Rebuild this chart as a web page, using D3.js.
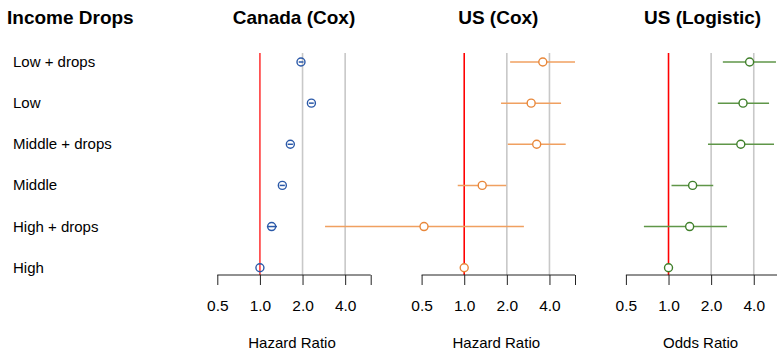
<!DOCTYPE html>
<html>
<head>
<meta charset="utf-8">
<script src="https://cdn.jsdelivr.net/npm/d3@7"></script>
<style>
  body { margin: 0; background: #fff; }
  text { font-family: "Liberation Sans", Arial, sans-serif; fill: #000; }
</style>
</head>
<body>
<script>
// row labels, top to bottom
const groups = ["Low + drops", "Low", "Middle + drops", "Middle", "High + drops", "High"];

// Canada (Cox): estimate, lower, upper
const canadaEst = [1.95, 2.31, 1.64, 1.44, 1.21, 1.0];
const canadaLo = [1.88, 2.22, 1.57, 1.38, 1.12, 1.0];
const canadaHi = [2.03, 2.40, 1.71, 1.50, 1.32, 1.0];

// US (Cox)
const usCoxEst = [3.59, 2.97, 3.25, 1.34, 0.52, 1.0];
const usCoxLo = [2.11, 1.82, 2.03, 0.90, 0.104, 1.0];
const usCoxHi = [6.06, 4.83, 5.21, 1.98, 2.64, 1.0];

// US (Logistic)
const usLogEst = [3.74, 3.36, 3.24, 1.48, 1.41, 1.0];
const usLogLo = [2.42, 2.23, 1.90, 1.05, 0.67, 1.0];
const usLogHi = [5.74, 5.13, 5.56, 2.07, 2.59, 1.0];

const tickValues = [0.5, 1, 2, 4];
const tickLabels = ["0.5", "1.0", "2.0", "4.0"];
const axisMax = 6.06;

const panels = [
  { title: "Canada (Cox)", xlab: "Hazard Ratio", est: canadaEst, lo: canadaLo, hi: canadaHi,
    color: "#2b59a8", line: "#2b59a8", lineOnTop: true, refColor: "#ff3b3b" },
  { title: "US (Cox)", xlab: "Hazard Ratio", est: usCoxEst, lo: usCoxLo, hi: usCoxHi,
    color: "#e8873a", line: "#f0a060", lineOnTop: false, refColor: "#ff0000" },
  { title: "US (Logistic)", xlab: "Odds Ratio", est: usLogEst, lo: usLogLo, hi: usLogHi,
    color: "#3f7f2a", line: "#5f9648", lineOnTop: false, refColor: "#ff0000" },
];

const w = 777;
const h = 350;
const panelStart = 217.3;
const panelStep = 204.3;
const panelWidth = 153.4;
const axisY = 275;
const topY = 53;

const svg = d3.select("body").append("svg").attr("width", w).attr("height", h);

const y = d3.scalePoint().domain(groups).range([62, 267.7]);

// left title and row labels
svg.append("text")
  .attr("x", 7).attr("y", 24)
  .attr("font-size", 19).attr("font-weight", "bold")
  .text("Income Drops");

svg.selectAll(".rowlab").data(groups).enter().append("text")
  .attr("class", "rowlab")
  .attr("x", 13)
  .attr("y", (d) => y(d) + 5)
  .attr("font-size", 15)
  .text((d) => d);

panels.forEach((p, i) => {
  const x0 = panelStart + i * panelStep;
  const x = d3.scaleLog().base(2).domain([0.5, axisMax]).range([x0, x0 + panelWidth]);
  const g = svg.append("g");
  const mid = x0 + panelWidth / 2;

  g.append("text")
    .attr("x", mid).attr("y", 24)
    .attr("text-anchor", "middle")
    .attr("font-size", 19).attr("font-weight", "bold")
    .text(p.title);

  // grey guides at 2 and 4
  g.selectAll(".guide").data([2, 4]).enter().append("line")
    .attr("x1", (d) => x(d)).attr("x2", (d) => x(d))
    .attr("y1", topY).attr("y2", axisY)
    .attr("stroke", "#c8c8c8").attr("stroke-width", 1.6);

  // reference line at 1
  g.append("line")
    .attr("x1", x(1)).attr("x2", x(1))
    .attr("y1", topY).attr("y2", axisY)
    .attr("stroke", p.refColor).attr("stroke-width", 1.6);

  // axis
  const axis = d3.axisBottom(x)
    .tickValues(tickValues.concat([axisMax]))
    .tickSize(10)
    .tickPadding(15)
    .tickFormat((d) => { const k = tickValues.indexOf(d); return k < 0 ? "" : tickLabels[k]; });
  const ag = g.append("g").attr("transform", `translate(0,${axisY})`).call(axis);
  ag.select(".domain").attr("d", `M${x0},0H${x0 + panelWidth}`).attr("stroke", "#222");
  ag.selectAll(".tick line").attr("stroke", "#222");
  ag.selectAll(".tick text")
    .attr("font-size", 15.5)
    .attr("font-family", "Liberation Sans, Arial, sans-serif")
    .attr("fill", "#000");

  g.append("text")
    .attr("x", mid - 2).attr("y", 348)
    .attr("text-anchor", "middle")
    .attr("font-size", 15)
    .text(p.xlab);

  const rows = groups.map((name, k) => ({ name, est: p.est[k], lo: p.lo[k], hi: p.hi[k] }));

  const drawLines = () => {
    g.selectAll(".ci").data(rows.filter((d) => d.hi > d.lo)).enter().append("line")
      .attr("x1", (d) => x(d.lo)).attr("x2", (d) => x(d.hi))
      .attr("y1", (d) => y(d.name)).attr("y2", (d) => y(d.name))
      .attr("stroke", p.line).attr("stroke-width", 1.5);
  };

  if (!p.lineOnTop) drawLines();

  g.selectAll(".pt").data(rows).enter().append("circle")
    .attr("cx", (d) => x(d.est))
    .attr("cy", (d) => y(d.name))
    .attr("r", 4)
    .attr("fill", p.lineOnTop ? "none" : "#fff")
    .attr("stroke", p.color)
    .attr("stroke-width", 1.4);

  if (p.lineOnTop) drawLines();
});
</script>
</body>
</html>
